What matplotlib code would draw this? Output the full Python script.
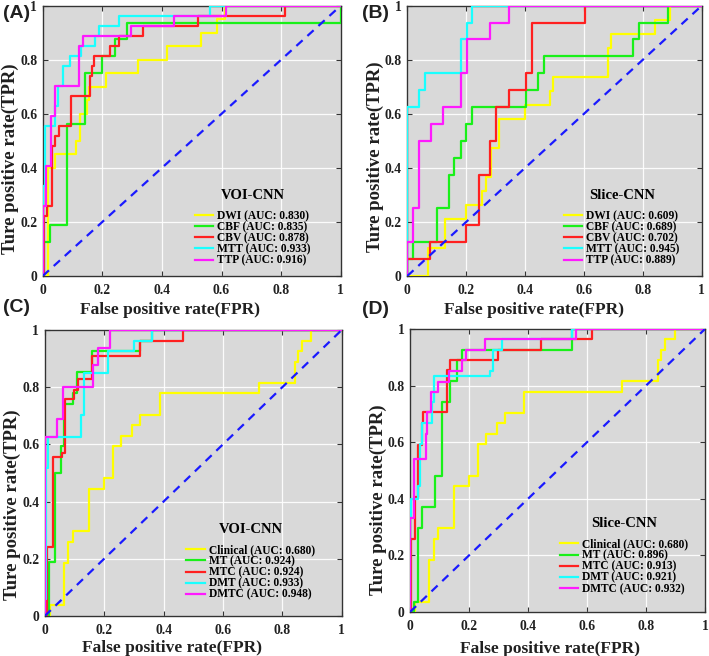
import matplotlib
matplotlib.use("Agg")
import matplotlib.pyplot as plt
from matplotlib.ticker import FuncFormatter

# ---------------- data (ROC corner points: fpr where tpr jumps, new tpr) -------------
# Panel A : VOI-CNN, single maps
a_dwi_fpr = [0, 0.018, 0.04, 0.113, 0.126, 0.15, 0.155, 0.211, 0.32, 0.416, 0.53, 0.584, 0.612, 1.0]
a_dwi_tpr = [0, 0.40, 0.45, 0.50, 0.60, 0.65, 0.70, 0.75, 0.80, 0.85, 0.90, 0.95, 1.0, 1.0]
a_cbf_fpr = [0, 0.004, 0.023, 0.083, 0.141, 0.20, 0.243, 0.282, 1.0]
a_cbf_tpr = [0, 0.125, 0.1875, 0.5625, 0.75, 0.8125, 0.875, 0.9375, 1.0]
a_cbv_fpr = [0, 0.005, 0.016, 0.031, 0.04, 0.054, 0.094, 0.16, 0.165, 0.172, 0.227, 0.255, 0.336, 0.522, 0.813, 1.0]
a_cbv_tpr = [0, 0.222, 0.259, 0.481, 0.519, 0.556, 0.667, 0.741, 0.778, 0.815, 0.852, 0.889, 0.926, 0.963, 1.0, 1.0]
a_mtt_fpr = [0, 0.0, 0.009, 0.04, 0.051, 0.068, 0.093, 0.13, 0.175, 0.188, 0.255, 0.562, 1.0]
a_mtt_tpr = [0, 0.333, 0.556, 0.630, 0.704, 0.778, 0.815, 0.852, 0.889, 0.926, 0.963, 1.0, 1.0]
a_ttp_fpr = [0, 0.0, 0.012, 0.027, 0.04, 0.121, 0.135, 0.295, 0.44, 0.614, 1.0]
a_ttp_tpr = [0, 0.259, 0.407, 0.593, 0.704, 0.852, 0.889, 0.926, 0.963, 1.0, 1.0]
a_auc = ["0.830", "0.835", "0.878", "0.933", "0.916"]

# Panel B : Slice-CNN, single maps
b_dwi_fpr = [0, 0.07, 0.127, 0.20, 0.254, 0.268, 0.285, 0.311, 0.399, 0.485, 0.496, 0.683, 0.692, 0.842, 0.892, 1.0]
b_dwi_tpr = [0, 0.105, 0.211, 0.263, 0.316, 0.368, 0.474, 0.579, 0.632, 0.684, 0.737, 0.842, 0.895, 0.947, 1.0, 1.0]
b_cbf_fpr = [0, 0.0, 0.019, 0.101, 0.14, 0.16, 0.181, 0.20, 0.221, 0.404, 0.444, 0.463, 0.766, 0.786, 0.887, 1.0]
b_cbf_tpr = [0, 0.0625, 0.125, 0.25, 0.375, 0.4375, 0.5, 0.5625, 0.625, 0.6875, 0.75, 0.8125, 0.875, 0.9375, 1.0, 1.0]
b_cbv_fpr = [0, 0.0, 0.078, 0.20, 0.242, 0.282, 0.302, 0.344, 0.404, 0.425, 0.604, 1.0]
b_cbv_tpr = [0, 0.0625, 0.125, 0.1875, 0.375, 0.5, 0.625, 0.6875, 0.75, 0.9375, 1.0, 1.0]
b_mtt_fpr = [0, 0.0, 0.039, 0.061, 0.183, 0.204, 0.221, 1.0]
b_mtt_tpr = [0, 0.625, 0.6875, 0.75, 0.875, 0.9375, 1.0, 1.0]
b_ttp_fpr = [0, 0.0, 0.019, 0.04, 0.081, 0.121, 0.183, 0.203, 0.282, 0.344, 1.0]
b_ttp_tpr = [0, 0.125, 0.25, 0.5, 0.5625, 0.625, 0.75, 0.875, 0.9375, 1.0, 1.0]
b_auc = ["0.609", "0.689", "0.702", "0.945", "0.889"]

# Clinical model (same in C and D)
clin_fpr = [0, 0.018, 0.065, 0.08, 0.094, 0.15, 0.20, 0.229, 0.257, 0.295, 0.321, 0.388, 0.72, 0.842, 0.852, 0.865, 0.897, 1.0]
clin_tpr = [0, 0.037, 0.185, 0.259, 0.296, 0.444, 0.481, 0.593, 0.630, 0.667, 0.704, 0.778, 0.815, 0.889, 0.926, 0.963, 1.0, 1.0]

# Panel C : VOI-CNN, combined models
c_mt_fpr = [0, 0.016, 0.033, 0.054, 0.066, 0.094, 0.108, 0.158, 0.32, 0.36, 1.0]
c_mt_tpr = [0, 0.19, 0.50, 0.593, 0.741, 0.778, 0.852, 0.926, 0.963, 1.0, 1.0]
c_mtc_fpr = [0, 0.009, 0.029, 0.059, 0.068, 0.097, 0.113, 0.16, 0.321, 0.467, 1.0]
c_mtc_tpr = [0, 0.24, 0.556, 0.57, 0.759, 0.79, 0.83, 0.909, 0.962, 1.0, 1.0]
c_dmt_fpr = [0, 0.0, 0.004, 0.012, 0.121, 0.134, 0.214, 0.30, 0.36, 1.0]
c_dmt_tpr = [0, 0.058, 0.519, 0.627, 0.703, 0.851, 0.927, 0.963, 1.0, 1.0]
c_dmtc_fpr = [0, 0.0, 0.04, 0.061, 0.164, 0.18, 0.22, 1.0]
c_dmtc_tpr = [0, 0.627, 0.69, 0.80, 0.877, 0.938, 1.0, 1.0]
c_auc = ["0.680", "0.924", "0.924", "0.933", "0.948"]

# Panel D : Slice-CNN, combined models
d_mt_fpr = [0, 0.015, 0.028, 0.042, 0.085, 0.107, 0.136, 0.158, 0.175, 0.548, 1.0]
d_mt_tpr = [0, 0.037, 0.296, 0.37, 0.481, 0.741, 0.815, 0.889, 0.926, 1.0, 1.0]
d_mtc_fpr = [0, 0.003, 0.017, 0.028, 0.04, 0.045, 0.124, 0.136, 0.297, 0.443, 0.618, 1.0]
d_mtc_tpr = [0, 0.259, 0.407, 0.59, 0.667, 0.706, 0.855, 0.889, 0.926, 0.963, 1.0, 1.0]
d_dmt_fpr = [0, 0.0, 0.005, 0.026, 0.034, 0.042, 0.073, 0.082, 0.271, 0.282, 0.311, 0.548, 1.0]
d_dmt_tpr = [0, 0.333, 0.40, 0.444, 0.593, 0.667, 0.741, 0.833, 0.852, 0.926, 0.963, 1.0, 1.0]
d_dmtc_fpr = [0, 0.0, 0.015, 0.053, 0.056, 0.071, 0.096, 0.133, 0.175, 0.189, 0.254, 0.562, 1.0]
d_dmtc_tpr = [0, 0.333, 0.541, 0.63, 0.706, 0.779, 0.814, 0.852, 0.889, 0.926, 0.963, 1.0, 1.0]
d_auc = ["0.680", "0.896", "0.913", "0.921", "0.932"]

single_names = ["DWI", "CBF", "CBV", "MTT", "TTP"]
combo_names = ["Clinical", "MT", "MTC", "DMT", "DMTC"]
ticks = [0, 0.2, 0.4, 0.6, 0.8, 1.0]

# ---------------- styling ----------------
colors = ["#ffff00", "#19f019", "#ff2020", "#19ffff", "#ff19ff"]
SERIF = "Liberation Serif"
SANS = "Liberation Sans"

fig = plt.figure(figsize=(7.09, 6.56), dpi=100)
W, H = 709.0, 656.0

def ax_at(l, r, t, b):
    return fig.add_axes([l / W, 1 - b / H, (r - l) / W, (b - t) / H])

panels = [
    dict(box=(42.7, 340.7, 5.7, 276), curves=[(a_dwi_fpr, a_dwi_tpr), (a_cbf_fpr, a_cbf_tpr), (a_cbv_fpr, a_cbv_tpr), (a_mtt_fpr, a_mtt_tpr), (a_ttp_fpr, a_ttp_tpr)],
         names=single_names, auc=a_auc, title="VOI-CNN", leg=(0.511, 0.322), xl=(0.427, -0.125), yl=(-0.108, 0.433), tag="(A)", tagpos=(3, 13)),
    dict(box=(407.3, 701.7, 5.7, 276), curves=[(b_dwi_fpr, b_dwi_tpr), (b_cbf_fpr, b_cbf_tpr), (b_cbv_fpr, b_cbv_tpr), (b_mtt_fpr, b_mtt_tpr), (b_ttp_fpr, b_ttp_tpr)],
         names=single_names, auc=b_auc, title="Slice-CNN", leg=(0.532, 0.322), xl=(0.43, -0.125), yl=(-0.109, 0.44), tag="(B)", tagpos=(362, 13)),
    dict(box=(44.7, 341.7, 330, 616), curves=[(clin_fpr, clin_tpr), (c_mt_fpr, c_mt_tpr), (c_mtc_fpr, c_mtc_tpr), (c_dmt_fpr, c_dmt_tpr), (c_dmtc_fpr, c_dmtc_tpr)],
         names=combo_names, auc=c_auc, title="VOI-CNN", leg=(0.476, 0.325), xl=(0.43, -0.112), yl=(-0.108, 0.388), tag="(C)", tagpos=(3, 308)),
    dict(box=(410, 705, 329, 612), curves=[(clin_fpr, clin_tpr), (d_mt_fpr, d_mt_tpr), (d_mtc_fpr, d_mtc_tpr), (d_dmt_fpr, d_dmt_tpr), (d_dmtc_fpr, d_dmtc_tpr)],
         names=combo_names, auc=d_auc, title="Slice-CNN", leg=(0.508, 0.335), xl=(0.474, -0.13), yl=(-0.108, 0.396), tag="(D)", tagpos=(362, 310)),
]

fmt = FuncFormatter(lambda v, p: "%g" % v)

for P in panels:
    ax = ax_at(*P["box"])
    ax.set_facecolor("#d9d9d9")
    ax.set_xlim(0, 1)
    ax.set_ylim(0, 1)
    ax.set_xticks(ticks)
    ax.set_yticks(ticks)
    ax.xaxis.set_major_formatter(fmt)
    ax.yaxis.set_major_formatter(fmt)
    ax.grid(True, color="white", lw=0.9, alpha=0.9)
    ax.set_axisbelow(True)
    for s in ax.spines.values():
        s.set_color("#333333")
        s.set_linewidth(1.0)
    ax.tick_params(direction="in", length=3.5, width=0.8, color="#333333",
                   top=True, right=True, labelsize=9.8)
    ax.tick_params(axis="x", pad=6)
    ax.tick_params(axis="y", pad=4)
    for lab in ax.get_xticklabels() + ax.get_yticklabels():
        lab.set_fontfamily(SERIF)
        lab.set_fontweight("bold")
        lab.set_color("#202020")

    handles = []
    for (fx, ty), c, n, a in zip(P["curves"], colors, P["names"], P["auc"]):
        h, = ax.plot(fx, ty, drawstyle="steps-post", color=c, lw=1.6,
                     label="%s (AUC: %s)" % (n, a), zorder=3)
        handles.append(h)
    ax.plot([0, 1], [0, 1], color="#1a1aff", lw=1.6, ls=(0, (3.8, 2.9)), zorder=4)

    leg = ax.legend(handles=handles, loc="upper left", bbox_to_anchor=P["leg"],
                    frameon=False, borderpad=0, borderaxespad=0,
                    handlelength=1.6, handletextpad=0.35, labelspacing=-0.08,
                    title=P["title"],
                    prop=dict(family=SERIF, weight="bold", size=8.3),
                    title_fontproperties=dict(family=SERIF, weight="bold", size=10.5))
    leg._legend_box.sep = 6

    ax.set_xlabel("False positive rate(FPR)", family=SERIF, weight="bold", fontsize=12.5, color="#202020")
    ax.set_ylabel("Ture positive rate(TPR)", family=SERIF, weight="bold", fontsize=13.5, color="#202020")
    ax.xaxis.set_label_coords(*P["xl"])
    ax.yaxis.set_label_coords(*P["yl"])
    ax.xaxis.label.set_va("center")
    ax.yaxis.label.set_va("center")

    fig.text(P["tagpos"][0] / W, 1 - P["tagpos"][1] / H, P["tag"], family=SANS,
             weight="bold", fontsize=14, ha="left", va="center", color="#202020")

fig.savefig("out.png", dpi=100)
